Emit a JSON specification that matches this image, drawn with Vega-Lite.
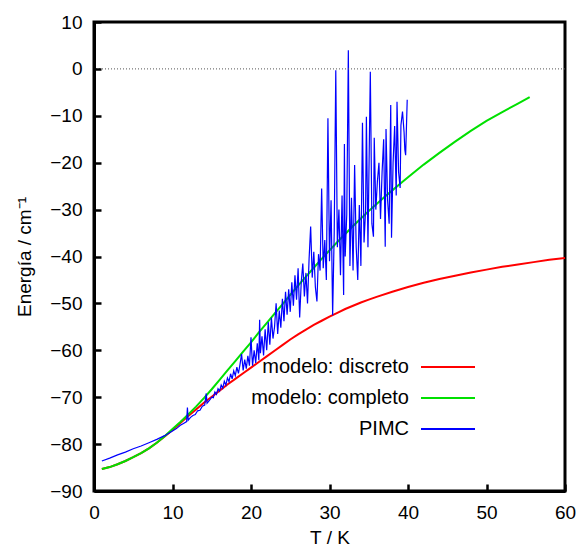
{
  "$schema": "https://vega.github.io/schema/vega-lite/v6.json",
  "width": 471,
  "height": 469,
  "autosize": {"type": "none"},
  "padding": {"left": 94, "top": 22, "right": 12, "bottom": 59},
  "background": "white",
  "config": {
    "view": {"stroke": "#000000", "strokeWidth": 3},
    "font": "Liberation Sans",
    "axis": {
      "labelFlush": false,
      "labelFont": "Liberation Sans",
      "labelFontSize": 19,
      "labelColor": "black",
      "titleFont": "Liberation Sans",
      "titleFontSize": 19,
      "titleFontWeight": "normal",
      "titleColor": "black"
    }
  },
  "datasets": {
    "discreto": [
      {"T": 1, "E": -85.3}, {"T": 2, "E": -84.9}, {"T": 3, "E": -84.3}, {"T": 4, "E": -83.6}, {"T": 5, "E": -82.8},
      {"T": 6, "E": -81.9}, {"T": 7, "E": -80.9}, {"T": 8, "E": -79.7}, {"T": 9, "E": -78.4}, {"T": 10, "E": -77.0},
      {"T": 11, "E": -75.5}, {"T": 12, "E": -74.0}, {"T": 13, "E": -72.6}, {"T": 14, "E": -71.2}, {"T": 15, "E": -69.9},
      {"T": 16, "E": -68.6}, {"T": 17, "E": -67.3}, {"T": 18, "E": -66.1}, {"T": 19, "E": -64.9}, {"T": 20, "E": -63.7},
      {"T": 21, "E": -62.5}, {"T": 22, "E": -61.3}, {"T": 23, "E": -60.1}, {"T": 24, "E": -58.9}, {"T": 25, "E": -57.7},
      {"T": 26, "E": -56.6}, {"T": 27, "E": -55.6}, {"T": 28, "E": -54.6}, {"T": 29, "E": -53.7}, {"T": 30, "E": -52.8},
      {"T": 31, "E": -52.0}, {"T": 32, "E": -51.2}, {"T": 33, "E": -50.5}, {"T": 34, "E": -49.8}, {"T": 35, "E": -49.2},
      {"T": 36, "E": -48.6}, {"T": 38, "E": -47.5}, {"T": 40, "E": -46.5}, {"T": 42, "E": -45.6}, {"T": 44, "E": -44.8},
      {"T": 46, "E": -44.1}, {"T": 48, "E": -43.4}, {"T": 50, "E": -42.8}, {"T": 52, "E": -42.2}, {"T": 54, "E": -41.7},
      {"T": 56, "E": -41.2}, {"T": 58, "E": -40.7}, {"T": 60, "E": -40.3}
    ],
    "completo": [
      {"T": 1, "E": -85.3}, {"T": 2, "E": -84.9}, {"T": 3, "E": -84.3}, {"T": 4, "E": -83.6}, {"T": 5, "E": -82.8},
      {"T": 6, "E": -81.9}, {"T": 7, "E": -80.9}, {"T": 8, "E": -79.7}, {"T": 9, "E": -78.3}, {"T": 10, "E": -76.8},
      {"T": 11, "E": -75.3}, {"T": 12, "E": -73.7}, {"T": 13, "E": -72.0}, {"T": 14, "E": -70.2}, {"T": 15, "E": -68.3},
      {"T": 16, "E": -66.3}, {"T": 17, "E": -64.3}, {"T": 18, "E": -62.3}, {"T": 19, "E": -60.3}, {"T": 20, "E": -58.3},
      {"T": 21, "E": -56.2}, {"T": 22, "E": -54.2}, {"T": 23, "E": -52.2}, {"T": 24, "E": -50.2}, {"T": 25, "E": -48.2},
      {"T": 26, "E": -46.2}, {"T": 27, "E": -44.3}, {"T": 28, "E": -42.4}, {"T": 29, "E": -40.5}, {"T": 30, "E": -38.7},
      {"T": 31, "E": -36.9}, {"T": 32, "E": -35.2}, {"T": 33, "E": -33.5}, {"T": 34, "E": -31.9}, {"T": 35, "E": -30.3},
      {"T": 36, "E": -28.8}, {"T": 37, "E": -27.3}, {"T": 38, "E": -25.9}, {"T": 39, "E": -24.5}, {"T": 40, "E": -23.1},
      {"T": 42, "E": -20.4}, {"T": 44, "E": -17.9}, {"T": 46, "E": -15.5}, {"T": 48, "E": -13.2}, {"T": 50, "E": -11.1},
      {"T": 52, "E": -9.2}, {"T": 54, "E": -7.4}, {"T": 55.5, "E": -6.0}
    ],
    "pimc": [
      {"T": 1, "E": -83.6}, {"T": 2, "E": -83.0}, {"T": 3, "E": -82.3}, {"T": 4, "E": -81.7}, {"T": 5, "E": -81.0},
      {"T": 6, "E": -80.4}, {"T": 7, "E": -79.7}, {"T": 8, "E": -79.0}, {"T": 9, "E": -78.2}, {"T": 10, "E": -77.2},
      {"T": 10.5, "E": -76.7}, {"T": 11, "E": -76.0}, {"T": 11.4, "E": -75.6}, {"T": 11.8, "E": -75.2}, {"T": 11.9, "E": -72.2},
      {"T": 12.0, "E": -74.9}, {"T": 12.3, "E": -74.3}, {"T": 12.6, "E": -73.9}, {"T": 12.9, "E": -73.7}, {"T": 13.2, "E": -72.9},
      {"T": 13.5, "E": -72.8}, {"T": 13.8, "E": -71.9}, {"T": 14.1, "E": -71.7}, {"T": 14.3, "E": -69.2}, {"T": 14.4, "E": -71.3},
      {"T": 14.7, "E": -70.7}, {"T": 15.0, "E": -70.0}, {"T": 15.2, "E": -70.1}, {"T": 15.4, "E": -68.9}, {"T": 15.6, "E": -69.4},
      {"T": 15.8, "E": -68.2}, {"T": 16.0, "E": -68.7}, {"T": 16.2, "E": -67.4}, {"T": 16.4, "E": -68.1}, {"T": 16.6, "E": -66.6},
      {"T": 16.8, "E": -67.4}, {"T": 17.0, "E": -65.9}, {"T": 17.2, "E": -66.7}, {"T": 17.4, "E": -65.0}, {"T": 17.6, "E": -66.1},
      {"T": 17.8, "E": -64.4}, {"T": 18.0, "E": -65.4}, {"T": 18.2, "E": -63.6}, {"T": 18.4, "E": -64.9}, {"T": 18.6, "E": -63.0},
      {"T": 18.8, "E": -60.8}, {"T": 19.0, "E": -64.3}, {"T": 19.2, "E": -62.0}, {"T": 19.4, "E": -63.9}, {"T": 19.6, "E": -61.2},
      {"T": 19.8, "E": -63.3}, {"T": 20.0, "E": -57.2}, {"T": 20.1, "E": -60.5}, {"T": 20.2, "E": -63.3}, {"T": 20.4, "E": -60.0},
      {"T": 20.6, "E": -62.7}, {"T": 20.8, "E": -58.5}, {"T": 21.0, "E": -62.1}, {"T": 21.1, "E": -53.5}, {"T": 21.2, "E": -60.6},
      {"T": 21.4, "E": -57.0}, {"T": 21.6, "E": -61.1}, {"T": 21.8, "E": -55.5}, {"T": 22.0, "E": -60.0}, {"T": 22.2, "E": -54.0},
      {"T": 22.4, "E": -58.8}, {"T": 22.6, "E": -53.0}, {"T": 22.8, "E": -57.5}, {"T": 23.0, "E": -55.0}, {"T": 23.2, "E": -50.0},
      {"T": 23.4, "E": -56.5}, {"T": 23.6, "E": -51.5}, {"T": 23.8, "E": -55.2}, {"T": 24.0, "E": -49.0}, {"T": 24.2, "E": -53.8},
      {"T": 24.4, "E": -47.5}, {"T": 24.6, "E": -52.4}, {"T": 24.8, "E": -47.0}, {"T": 25.0, "E": -51.8}, {"T": 25.2, "E": -45.5},
      {"T": 25.4, "E": -50.5}, {"T": 25.6, "E": -44.0}, {"T": 25.8, "E": -49.2}, {"T": 26.0, "E": -42.5}, {"T": 26.2, "E": -53.0},
      {"T": 26.4, "E": -45.5}, {"T": 26.6, "E": -41.5}, {"T": 26.8, "E": -48.5}, {"T": 27.0, "E": -43.5}, {"T": 27.2, "E": -50.0},
      {"T": 27.4, "E": -40.5}, {"T": 27.6, "E": -33.6}, {"T": 27.8, "E": -44.5}, {"T": 28.0, "E": -39.0}, {"T": 28.2, "E": -46.5},
      {"T": 28.4, "E": -49.6}, {"T": 28.6, "E": -39.5}, {"T": 28.8, "E": -43.0}, {"T": 29.0, "E": -25.5}, {"T": 29.2, "E": -42.5},
      {"T": 29.4, "E": -36.5}, {"T": 29.6, "E": -45.0}, {"T": 29.8, "E": -10.5}, {"T": 30.0, "E": -41.0}, {"T": 30.2, "E": -28.0},
      {"T": 30.4, "E": -52.5}, {"T": 30.6, "E": -35.0}, {"T": 30.8, "E": -0.3}, {"T": 31.0, "E": -38.0}, {"T": 31.2, "E": -30.0},
      {"T": 31.4, "E": -44.0}, {"T": 31.6, "E": -27.0}, {"T": 31.8, "E": -48.2}, {"T": 31.9, "E": -16.0}, {"T": 32.0, "E": -40.0},
      {"T": 32.2, "E": -31.0}, {"T": 32.4, "E": 4.0}, {"T": 32.6, "E": -42.0}, {"T": 32.8, "E": -27.5}, {"T": 33.0, "E": -43.0},
      {"T": 33.2, "E": -20.5}, {"T": 33.4, "E": -38.0}, {"T": 33.6, "E": -45.0}, {"T": 33.8, "E": -29.0}, {"T": 34.0, "E": -42.0},
      {"T": 34.2, "E": -11.5}, {"T": 34.4, "E": -37.0}, {"T": 34.6, "E": -30.0}, {"T": 34.7, "E": -10.2}, {"T": 34.9, "E": -38.0},
      {"T": 35.0, "E": -25.0}, {"T": 35.2, "E": -0.6}, {"T": 35.4, "E": -33.0}, {"T": 35.6, "E": -35.8}, {"T": 35.7, "E": -14.7},
      {"T": 35.9, "E": -30.0}, {"T": 36.1, "E": -24.0}, {"T": 36.3, "E": -20.0}, {"T": 36.5, "E": -32.0}, {"T": 36.7, "E": -22.0},
      {"T": 36.9, "E": -15.0}, {"T": 37.1, "E": -37.9}, {"T": 37.2, "E": -12.8}, {"T": 37.4, "E": -28.0}, {"T": 37.6, "E": -33.0},
      {"T": 37.8, "E": -7.7}, {"T": 37.9, "E": -36.0}, {"T": 38.1, "E": -20.0}, {"T": 38.3, "E": -12.2}, {"T": 38.5, "E": -27.0},
      {"T": 38.6, "E": -7.0}, {"T": 38.8, "E": -22.0}, {"T": 39.0, "E": -25.4}, {"T": 39.1, "E": -12.0}, {"T": 39.3, "E": -9.1},
      {"T": 39.5, "E": -13.5}, {"T": 39.6, "E": -17.3}, {"T": 39.7, "E": -18.4}, {"T": 39.9, "E": -6.6}
    ]
  },
  "layer": [
    {
      "data": {"name": "discreto"},
      "mark": {"type": "line", "strokeWidth": 2},
      "encoding": {
        "x": {"field": "T", "type": "quantitative", "scale": {"domain": [0, 60], "nice": false},
              "axis": {"title": "T / K", "tickCount": 6, "ticks": true, "tickSize": -7, "tickWidth": 2.5, "tickColor": "#000000",
                       "domain": true, "domainWidth": 3, "domainColor": "#000000", "zindex": 1,
                       "labelPadding": 19, "titlePadding": 6, "grid": false}},
        "y": {"field": "E", "type": "quantitative", "scale": {"domain": [-90, 10], "nice": false},
              "axis": {"title": "Energía / cm⁻¹", "tickCount": 10, "ticks": true, "tickSize": -7, "tickWidth": 2.5, "tickColor": "#000000",
                       "domain": true, "domainWidth": 3, "domainColor": "#000000", "zindex": 1,
                       "labelPadding": 19, "titlePadding": 15, "grid": false}},
        "color": {"datum": "modelo: discreto", "type": "nominal",
                  "scale": {"domain": ["modelo: discreto", "modelo: completo", "PIMC"], "range": ["#ff0000", "#00e000", "#0000ff"]},
                  "legend": {"orient": "none", "legendX": 343, "legendY": 334, "title": null, "padding": 0,
                             "symbolType": "M-2.7,0H2.7", "symbolSize": 400, "symbolStrokeWidth": 2,
                             "labelAlign": "right", "labelOffset": -50, "labelFont": "Liberation Sans", "labelFontSize": 20,
                             "labelColor": "black", "rowPadding": 10}}
      }
    },
    {
      "data": {"name": "completo"},
      "mark": {"type": "line", "strokeWidth": 2},
      "encoding": {
        "x": {"field": "T", "type": "quantitative"},
        "y": {"field": "E", "type": "quantitative"},
        "color": {"datum": "modelo: completo", "type": "nominal"}
      }
    },
    {
      "data": {"name": "pimc"},
      "mark": {"type": "line", "strokeWidth": 1.2},
      "encoding": {
        "x": {"field": "T", "type": "quantitative"},
        "y": {"field": "E", "type": "quantitative"},
        "color": {"datum": "PIMC", "type": "nominal"}
      }
    },
    {
      "data": {"values": [{}]},
      "mark": {"type": "rule", "color": "#555555", "strokeWidth": 1, "strokeDash": [1, 2]},
      "encoding": {
        "y": {"datum": 0, "type": "quantitative"}
      }
    }
  ]
}
